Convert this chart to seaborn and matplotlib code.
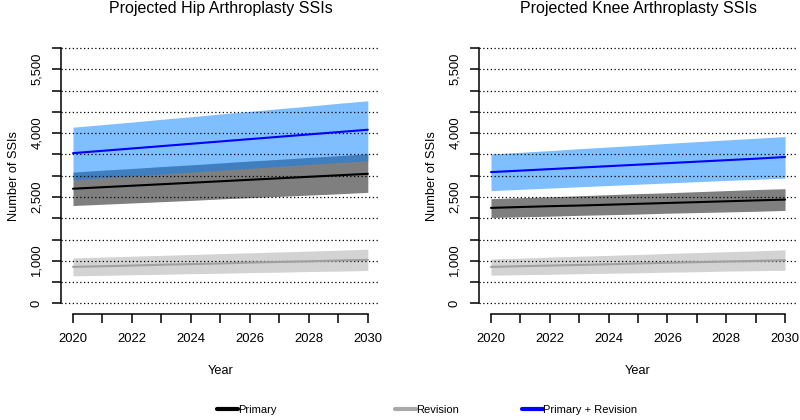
# projected SSIs, hip and knee arthroplasty, 2020-2030
import matplotlib
matplotlib.use("Agg")
import matplotlib.pyplot as plt
from matplotlib.lines import Line2D
import pandas as pd
import seaborn as sns

years = [2020, 2021, 2022, 2023, 2024, 2025, 2026, 2027, 2028, 2029, 2030]

# hip
hip_primary = [2695, 2730, 2765, 2800, 2835, 2870, 2905, 2940, 2975, 3010, 3045]
hip_primary_lo = [2300, 2330, 2360, 2390, 2420, 2455, 2485, 2515, 2545, 2575, 2610]
hip_primary_hi = [3085, 3130, 3170, 3215, 3255, 3300, 3345, 3385, 3430, 3470, 3515]
hip_revision = [860, 875, 890, 910, 925, 940, 960, 975, 990, 1010, 1025]
hip_revision_lo = [650, 660, 675, 685, 700, 710, 725, 735, 750, 760, 775]
hip_revision_hi = [1070, 1090, 1110, 1130, 1150, 1170, 1190, 1210, 1230, 1250, 1275]
hip_total = [3530, 3585, 3640, 3695, 3750, 3805, 3860, 3915, 3970, 4025, 4080]
hip_total_lo = [2905, 2950, 2995, 3040, 3085, 3130, 3175, 3220, 3265, 3310, 3350]
hip_total_hi = [4140, 4200, 4260, 4325, 4385, 4450, 4510, 4575, 4635, 4700, 4760]

# knee
knee_primary = [2245, 2265, 2285, 2300, 2320, 2340, 2360, 2380, 2400, 2420, 2440]
knee_primary_lo = [2020, 2035, 2050, 2070, 2085, 2100, 2120, 2135, 2150, 2165, 2185]
knee_primary_hi = [2460, 2485, 2505, 2530, 2555, 2580, 2600, 2625, 2650, 2675, 2695]
knee_revision = [860, 875, 890, 905, 920, 940, 955, 970, 985, 1000, 1015]
knee_revision_lo = [665, 675, 685, 700, 710, 720, 735, 745, 760, 770, 780]
knee_revision_hi = [1045, 1065, 1090, 1110, 1130, 1150, 1175, 1195, 1215, 1235, 1260]
knee_total = [3085, 3120, 3155, 3190, 3225, 3260, 3295, 3330, 3365, 3400, 3440]
knee_total_lo = [2650, 2680, 2710, 2740, 2770, 2800, 2830, 2860, 2890, 2915, 2945]
knee_total_hi = [3510, 3550, 3590, 3635, 3675, 3715, 3760, 3800, 3840, 3880, 3920]

titles = ["Projected Hip Arthroplasty SSIs", "Projected Knee Arthroplasty SSIs"]
series_names = ["Primary", "Revision", "Primary + Revision"]
y_ticks = list(range(0, 6001, 500))
y_labelled = {0: "0", 1000: "1,000", 2500: "2,500", 4000: "4,000", 5500: "5,500"}
x_labelled = [2020, 2022, 2024, 2026, 2028, 2030]

line_colors = {"Primary": "black", "Revision": "#a0a0a0", "Primary + Revision": "blue"}
band_colors = {"Primary": "#7f7f7f", "Revision": "#d3d3d3", "Primary + Revision": "#0080ff"}
band_alpha = {"Primary": 1.0, "Revision": 1.0, "Primary + Revision": 0.5}


def make_frame(prim, prim_lo, prim_hi, rev, rev_lo, rev_hi, tot, tot_lo, tot_hi):
    rows = []
    for name, m, lo, hi in [("Primary", prim, prim_lo, prim_hi),
                            ("Revision", rev, rev_lo, rev_hi),
                            ("Primary + Revision", tot, tot_lo, tot_hi)]:
        for y, a, b, c in zip(years, m, lo, hi):
            rows.append({"year": y, "series": name, "ssi": a, "lo": b, "hi": c})
    return pd.DataFrame(rows)


hip = make_frame(hip_primary, hip_primary_lo, hip_primary_hi,
                 hip_revision, hip_revision_lo, hip_revision_hi,
                 hip_total, hip_total_lo, hip_total_hi)
knee = make_frame(knee_primary, knee_primary_lo, knee_primary_hi,
                  knee_revision, knee_revision_lo, knee_revision_hi,
                  knee_total, knee_total_lo, knee_total_hi)

sns.set_theme(style="white")
plt.rcParams["font.family"] = ["Liberation Sans", "DejaVu Sans"]
plt.rcParams["text.color"] = "black"
plt.rcParams["axes.labelcolor"] = "black"
plt.rcParams["xtick.color"] = "black"
plt.rcParams["ytick.color"] = "black"

fig = plt.figure(figsize=(8, 4.2), dpi=100)
ax1 = fig.add_axes([0.0765, 0.2531, 0.398, 0.657])
ax2 = fig.add_axes([0.599, 0.2531, 0.397, 0.657])


def draw_panel(ax, df, title):
    for name in series_names:
        d = df[df["series"] == name]
        ax.fill_between(d["year"], d["lo"], d["hi"], color=band_colors[name],
                        alpha=band_alpha[name], linewidth=0, zorder=1)
    for yv in y_ticks:
        ax.axhline(yv, color="black", lw=0.9, ls=(0, (1, 2)), zorder=2)
    sns.lineplot(data=df, x="year", y="ssi", hue="series", palette=line_colors,
                 hue_order=series_names, lw=1.5, legend=False, ax=ax, zorder=3)

    ax.set_xlim(2019.6, 2030.4)
    ax.set_ylim(-240, 6240)
    for s in ["top", "right"]:
        ax.spines[s].set_visible(False)
    ax.spines["left"].set_bounds(0, 6000)
    ax.spines["bottom"].set_bounds(2020, 2030)
    for s in ["left", "bottom"]:
        ax.spines[s].set_color("black")
        ax.spines[s].set_linewidth(1.1)

    ax.set_xticks(years)
    ax.set_xticklabels([str(y) if y in x_labelled else "" for y in years])
    ax.set_yticks(y_ticks)
    ax.set_yticklabels([y_labelled.get(v, "") for v in y_ticks])
    ax.tick_params(axis="x", direction="out", length=6.5, width=1.1, pad=7.5,
                   labelsize=9.4, colors="black", bottom=True)
    ax.tick_params(axis="y", direction="out", length=6.3, width=1.1, pad=7,
                   labelsize=9.4, colors="black", left=True)
    plt.setp(ax.get_yticklabels(), rotation=90, va="center")

    ax.set_xlabel("Year", fontsize=9.2, color="black")
    ax.set_ylabel("Number of SSIs", fontsize=9.2, color="black")
    ax.xaxis.set_label_coords(0.5, -0.186)
    ax.yaxis.set_label_coords(-0.129, 0.5)
    ax.set_title(title, fontsize=11.5, pad=18, color="black")


draw_panel(ax1, hip, titles[0])
draw_panel(ax2, knee, titles[1])

# legend along the bottom, one entry at a time
legend_x = [0.271, 0.494, 0.652]
for name, lx in zip(series_names, legend_x):
    h = Line2D([], [], color=line_colors[name] if name != "Revision" else "#a9a9a9", lw=3)
    fig.legend([h], [name], loc="center left", bbox_to_anchor=(lx, 0.024),
               frameon=False, fontsize=8, handlelength=1.9, handletextpad=0.0,
               borderpad=0, borderaxespad=0, labelcolor="black")

fig.savefig("out.png", dpi=100)
